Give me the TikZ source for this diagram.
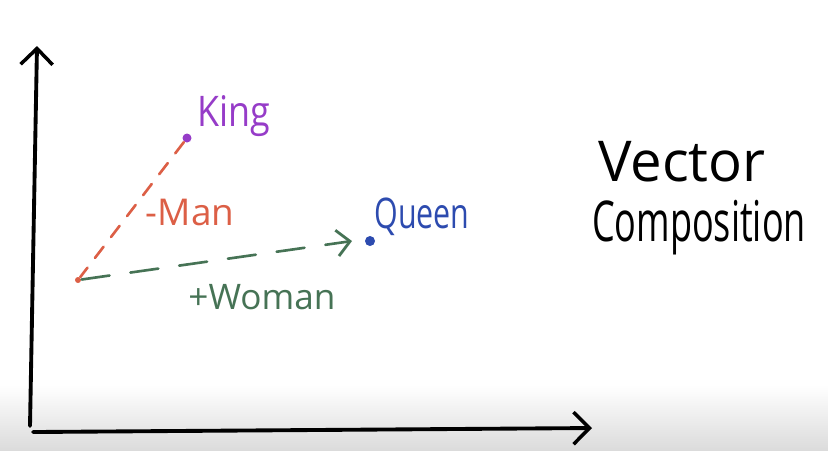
\documentclass[tikz,border=0pt]{standalone}
\usepackage{fontspec}
\usepackage{graphicx}
\setmainfont{Open Sans}
\usetikzlibrary{arrows.meta,positioning}
\definecolor{kingpurple}{RGB}{150,60,200}
\definecolor{manred}{RGB}{220,95,70}
\definecolor{womangreen}{RGB}{70,115,85}
\definecolor{queenblue}{RGB}{45,75,175}

\begin{document}
\begin{tikzpicture}[x=0.01cm,y=-0.01cm,line cap=round]
  \tikzset{word/.style={inner sep=0pt,font=\fontsize{#1}{#1}\selectfont},
    pt/.style={circle,fill=#1,inner sep=0pt,minimum size=0.9mm},
    barb/.style={-{Straight Barb[length=1.6mm,width=3.2mm,line width=1pt]}}}
  \useasboundingbox (0,0) rectangle (828,450);
  \shade[top color=white,bottom color=black!14] (0,385) rectangle (828,450);
  % axes
  \coordinate (yfoot) at (30,426);
  \coordinate (ytop) at (37,46);
  \coordinate (xfoot) at (33,432);
  \coordinate (xend) at (592,428);
  \draw[line width=1.1pt,barb] (yfoot) -- (ytop);
  \draw[line width=1.1pt,barb] (xfoot) -- (xend);
  % points
  \node[pt=kingpurple] (king) at (187,138) {};
  \node[word=12,text=kingpurple] (kinglbl) at (234,116) {\scalebox{0.85}[1]{King}};
  \node[pt=queenblue,minimum size=1mm] (queen) at (370,241) {};
  \node[word=12,text=queenblue] (queenlbl) at (422,217) {\scalebox{0.72}[1]{Queen}};
  \node[pt=manred,minimum size=0.6mm] (base) at (78,280) {};
  \coordinate (tip) at (352,241);
  % vectors
  \draw[manred,line width=0.75pt,dash pattern=on 4pt off 3.5pt] (king) -- (base);
  \draw[womangreen,line width=0.75pt,dash pattern=on 8pt off 6pt,
    -{Straight Barb[length=1.3mm,width=2.6mm,line width=0.8pt]}] (base) -- (tip);
  \node[word=10.5,text=manred] (man) at (190,212) {-Man};
  \node[word=10,text=womangreen] (woman) at (262,297) {+Woman};
  % title
  \node[word=16] (vec) at (682,162) {Vector};
  \node[word=16] (comp) at (699,228) {\scalebox{0.64}[1]{Composition}};
\end{tikzpicture}
\end{document}
